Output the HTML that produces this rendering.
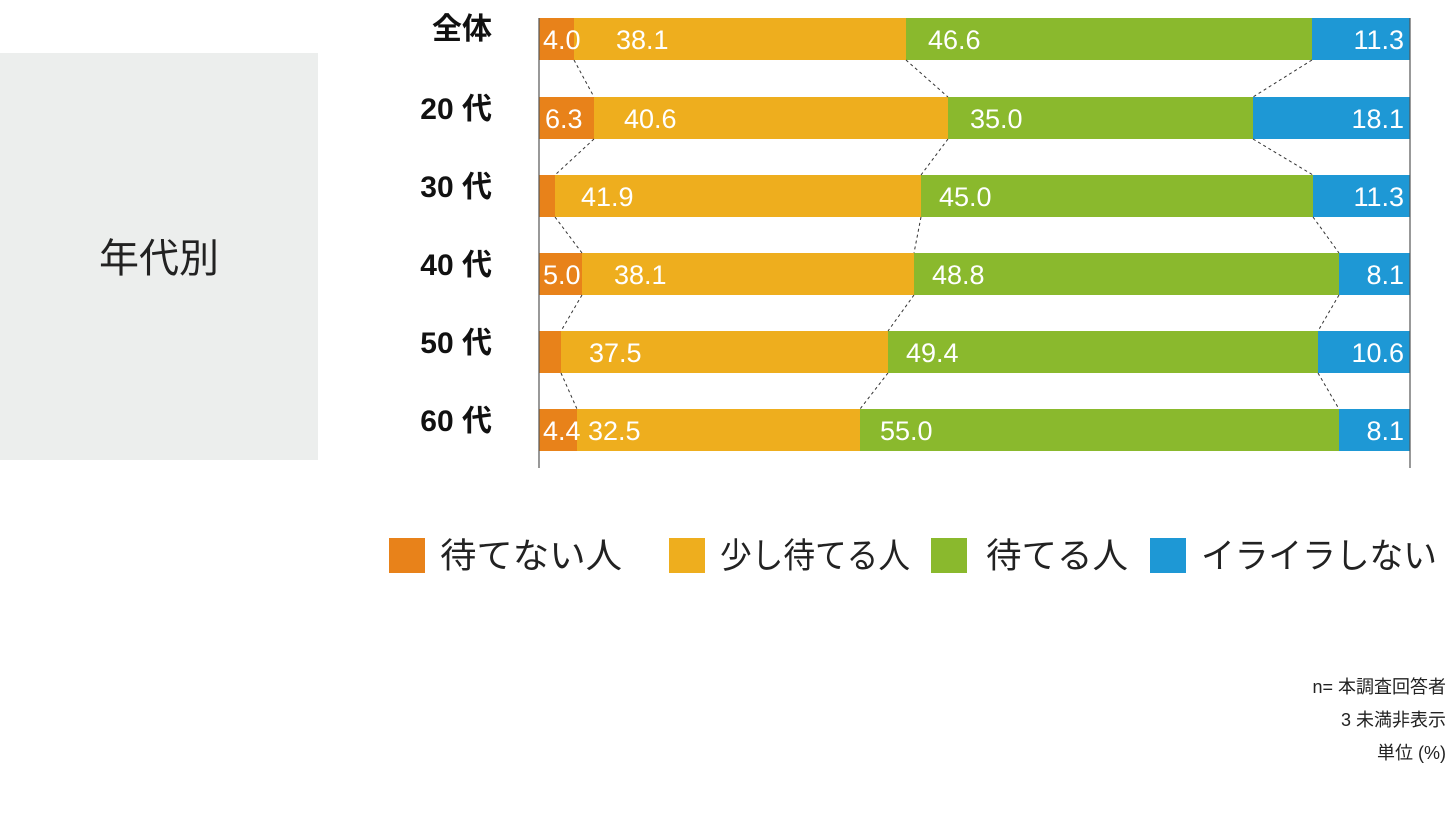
<!DOCTYPE html>
<html><head><meta charset="utf-8"><style>
html,body{margin:0;padding:0;background:#fff;}
svg{display:block;font-family:"Liberation Sans","Noto Sans CJK JP",sans-serif;}
</style></head><body>
<svg width="1449" height="817" viewBox="0 0 1449 817">
<rect x="0" y="53" width="318" height="407" fill="#ECEEED"/>
<text x="159" y="272" font-size="40" text-anchor="middle" fill="#222">年代別</text>
<g font-size="30" font-weight="bold" fill="#111" text-anchor="end">
<text x="492" y="39">全体</text>
<text x="492" y="119">20 代</text>
<text x="492" y="197">30 代</text>
<text x="492" y="275">40 代</text>
<text x="492" y="353">50 代</text>
<text x="492" y="431">60 代</text>
</g>
<g>
<rect x="539" y="18" width="35" height="42" fill="#E8821A"/><rect x="574" y="18" width="332" height="42" fill="#EEAE1E"/><rect x="906" y="18" width="406" height="42" fill="#8AB92D"/><rect x="1312" y="18" width="98" height="42" fill="#1E98D5"/>
<rect x="539" y="97" width="55" height="42" fill="#E8821A"/><rect x="594" y="97" width="354" height="42" fill="#EEAE1E"/><rect x="948" y="97" width="305" height="42" fill="#8AB92D"/><rect x="1253" y="97" width="157" height="42" fill="#1E98D5"/>
<rect x="539" y="175" width="16" height="42" fill="#E8821A"/><rect x="555" y="175" width="366" height="42" fill="#EEAE1E"/><rect x="921" y="175" width="392" height="42" fill="#8AB92D"/><rect x="1313" y="175" width="97" height="42" fill="#1E98D5"/>
<rect x="539" y="253" width="43" height="42" fill="#E8821A"/><rect x="582" y="253" width="332" height="42" fill="#EEAE1E"/><rect x="914" y="253" width="425" height="42" fill="#8AB92D"/><rect x="1339" y="253" width="71" height="42" fill="#1E98D5"/>
<rect x="539" y="331" width="22" height="42" fill="#E8821A"/><rect x="561" y="331" width="327" height="42" fill="#EEAE1E"/><rect x="888" y="331" width="430" height="42" fill="#8AB92D"/><rect x="1318" y="331" width="92" height="42" fill="#1E98D5"/>
<rect x="539" y="409" width="38" height="42" fill="#E8821A"/><rect x="577" y="409" width="283" height="42" fill="#EEAE1E"/><rect x="860" y="409" width="479" height="42" fill="#8AB92D"/><rect x="1339" y="409" width="71" height="42" fill="#1E98D5"/>
</g>
<g stroke="#333" stroke-width="1" stroke-dasharray="3,3" fill="none">
<path d="M574 60L594 97M906 60L948 97M1312 60L1253 97"/>
<path d="M594 139L555 175M948 139L921 175M1253 139L1313 175"/>
<path d="M555 217L582 253M921 217L914 253M1313 217L1339 253"/>
<path d="M582 295L561 331M914 295L888 331M1339 295L1318 331"/>
<path d="M561 373L577 409M888 373L860 409M1318 373L1339 409"/>
</g>
<g stroke="#555" stroke-width="1.2"><line x1="539" y1="18" x2="539" y2="468"/><line x1="1410" y1="18" x2="1410" y2="468"/></g>
<g font-size="27" fill="#fff">
<text x="543" y="49">4.0</text><text x="616" y="49">38.1</text><text x="928" y="49">46.6</text><text x="1404" y="49" text-anchor="end">11.3</text>
<text x="545" y="128">6.3</text><text x="624" y="128">40.6</text><text x="970" y="128">35.0</text><text x="1404" y="128" text-anchor="end">18.1</text>
<text x="581" y="206">41.9</text><text x="939" y="206">45.0</text><text x="1404" y="206" text-anchor="end">11.3</text>
<text x="543" y="284">5.0</text><text x="614" y="284">38.1</text><text x="932" y="284">48.8</text><text x="1404" y="284" text-anchor="end">8.1</text>
<text x="589" y="362">37.5</text><text x="906" y="362">49.4</text><text x="1404" y="362" text-anchor="end">10.6</text>
<text x="543" y="440">4.4</text><text x="588" y="440">32.5</text><text x="880" y="440">55.0</text><text x="1404" y="440" text-anchor="end">8.1</text>
</g>
<g font-size="35" fill="#222">
<rect x="389" y="538" width="36" height="35" fill="#E8821A"/><text x="440" y="568" textLength="182" lengthAdjust="spacingAndGlyphs">待てない人</text>
<rect x="669" y="538" width="36" height="35" fill="#EEAE1E"/><text x="720" y="568" textLength="190" lengthAdjust="spacingAndGlyphs">少し待てる人</text>
<rect x="931" y="538" width="36" height="35" fill="#8AB92D"/><text x="986" y="568" textLength="142" lengthAdjust="spacingAndGlyphs">待てる人</text>
<rect x="1150" y="538" width="36" height="35" fill="#1E98D5"/><text x="1201" y="568" textLength="236" lengthAdjust="spacingAndGlyphs">イライラしない</text>
</g>
<g font-size="18" fill="#222" text-anchor="end">
<text x="1446" y="693">n= 本調査回答者</text>
<text x="1446" y="726">3 未満非表示</text>
<text x="1446" y="759">単位 (%)</text>
</g>
</svg>
</body></html>
